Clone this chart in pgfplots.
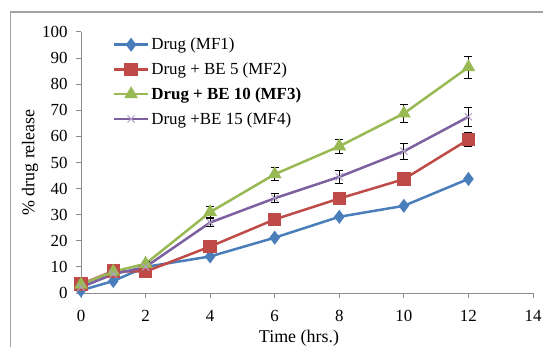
\documentclass[border=0pt]{standalone}
\usepackage{fontspec}
\setmainfont{Liberation Serif}
\usepackage{pgfplots}
\pgfplotsset{compat=1.18}
\definecolor{c1}{HTML}{4A7EBB}
\definecolor{c2}{HTML}{BE4B48}
\definecolor{c3}{HTML}{98B954}
\definecolor{c4}{HTML}{7D60A0}
\definecolor{axgray}{HTML}{8C8C8C}
\pgfplotstableread{
x y e
0 1.0 0
1 4.6 0
2 10.0 0
4 14.0 0
6 21.2 0
8 29.2 0
10 33.4 0
12 43.7 0
}\mfone
\pgfplotstableread{
x y e
0 3.4 0.5
1 8.4 0.5
2 8.2 0.5
4 17.8 1.0
6 28.2 1.0
8 36.2 1.0
10 43.6 1.0
12 58.8 2.8
}\mftwo
\pgfplotstableread{
x y e
0 3.2 0.5
1 8.2 0.5
2 11.2 0.8
4 31.0 2.0
6 45.5 2.5
8 56.2 2.7
10 68.8 3.4
12 86.5 4.3
}\mfthree
\pgfplotstableread{
x y e
0 2.2 0.5
1 7.2 0.5
2 10.0 0.7
4 27.0 1.5
6 36.3 1.8
8 44.5 2.5
10 54.3 3.0
12 67.5 3.6
}\mffour
\begin{document}
\begin{tikzpicture}
\useasboundingbox (0,0) rectangle (543bp,347bp);
\draw[axgray!80, line width=1.2bp] (10.5bp,0) -- (10.5bp,335bp) -- (543bp,335bp);
\begin{axis}[
  at={(81bp,54bp)}, anchor=south west,
  scale only axis, width=452bp, height=261bp,
  xmin=0, xmax=14, ymin=0, ymax=100,
  xtick={0,2,...,14}, ytick={0,10,...,100},
  axis x line*=bottom, axis y line*=left,
  axis line style={axgray, line width=1bp},
  tick style={axgray, line width=1bp},
  tick align=outside, major tick length=5bp,
  /pgf/number format/assume math mode=true,
  tick label style={font=\fontsize{17}{19}\selectfont},
  xticklabel style={yshift=-9bp},
  yticklabel style={xshift=-5bp},
  label style={font=\fontsize{18}{21}\selectfont},
  xlabel={Time (hrs.)}, ylabel={\% drug release},
  xlabel style={yshift=-1bp, xshift=-8bp},
  ylabel style={yshift=-3bp},
  every axis plot/.append style={line width=2.5bp},
  legend style={draw=none, fill=none, at={(0.07,0.985)}, anchor=north west,
    font=\fontsize{17}{19}\selectfont, row sep=7.5bp, inner sep=0pt,
    cells={anchor=west}},
  legend image code/.code={\draw[mark repeat=2,mark phase=2,#1] plot coordinates {(0bp,0bp) (17bp,0bp) (34bp,0bp)};},
  error bars/error bar style={black, line width=1bp},
  error bars/error mark options={black, line width=1bp, mark size=4bp, rotate=90},
]
\addplot[c1, mark=diamond*, mark size=5bp, mark options={solid, fill=c1}] table[x=x,y=y] {\mfone};
\addlegendentry{Drug (MF1)}
\addplot[c2, mark=square*, mark size=5.5bp, mark options={fill=c2},
  error bars/.cd, y dir=both, y explicit] table[x=x,y=y,y error=e] {\mftwo};
\addlegendentry{Drug + BE 5 (MF2)}
\addplot[c3, mark=triangle*, mark size=5.5bp, mark options={fill=c3},
  error bars/.cd, y dir=both, y explicit] table[x=x,y=y,y error=e] {\mfthree};
\addlegendentry{\bfseries Drug + BE 10 (MF3)}
\addplot[c4, mark=x, mark size=5bp, mark options={line width=1bp, c4!60},
  error bars/.cd, y dir=both, y explicit] table[x=x,y=y,y error=e] {\mffour};
\addlegendentry{Drug +BE 15 (MF4)}
\end{axis}
\end{tikzpicture}
\end{document}
